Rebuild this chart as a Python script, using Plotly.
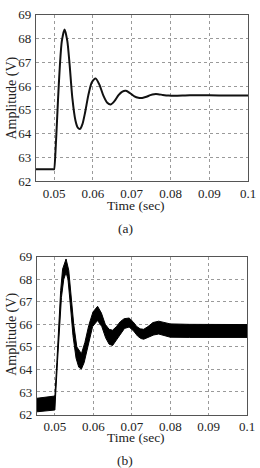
import plotly.graph_objects as go

# ---- data ----
time_a = [0.0453, 0.0499, 0.0500, 0.0505, 0.0510, 0.0515, 0.0520, 0.0527, 0.0534, 0.0540,
          0.0547, 0.0555, 0.0561, 0.0567, 0.0573, 0.0580, 0.0588, 0.0597, 0.0607, 0.0617,
          0.0627, 0.0637, 0.0646, 0.0656, 0.0666, 0.0676, 0.0685, 0.0696, 0.0707, 0.0717,
          0.0727, 0.0738, 0.0748, 0.0758, 0.0768, 0.0780, 0.0795, 0.0810, 0.0850, 0.0900,
          0.0950, 0.1000]
volt_a = [62.5, 62.5, 62.5, 63.7, 65.4, 66.9, 67.9, 68.38, 67.9, 66.9,
          65.5, 64.55, 64.25, 64.2, 64.4, 64.9, 65.6, 66.15, 66.32, 66.05,
          65.6, 65.3, 65.23, 65.38, 65.62, 65.77, 65.8, 65.7, 65.57, 65.51,
          65.5, 65.55, 65.62, 65.66, 65.66, 65.63, 65.6, 65.59, 65.61, 65.61,
          65.6, 65.6]

time_b_up = [0.0453, 0.0500, 0.0505, 0.0510, 0.0515, 0.0520, 0.0529, 0.0536, 0.0542, 0.0549,
             0.0557, 0.0569, 0.0578, 0.0588, 0.0599, 0.0611, 0.0621, 0.0631, 0.0641, 0.0650,
             0.0660, 0.0670, 0.0680, 0.0693, 0.0703, 0.0713, 0.0722, 0.0731, 0.0742, 0.0755,
             0.0770, 0.0785, 0.0800, 0.0850, 0.0900, 0.0950, 0.1000]
volt_b_up = [62.72, 62.82, 64.3, 66.0, 67.5, 68.45, 68.9, 68.4, 67.3, 66.0,
             65.0, 64.7, 65.2, 65.95, 66.55, 66.8, 66.5, 66.0, 65.78, 65.74,
             65.9, 66.12, 66.25, 66.28, 66.12, 65.9, 65.8, 65.78, 65.9, 66.08,
             66.14, 66.08, 66.02, 66.0, 66.0, 65.99, 65.99]

time_b_lo = [0.0453, 0.0500, 0.0502, 0.0507, 0.0512, 0.0517, 0.0523, 0.0529, 0.0534, 0.0540,
             0.0547, 0.0555, 0.0562, 0.0569, 0.0576, 0.0586, 0.0598, 0.0611, 0.0622, 0.0632,
             0.0641, 0.0650, 0.0660, 0.0670, 0.0681, 0.0693, 0.0704, 0.0715, 0.0724, 0.0731,
             0.0743, 0.0757, 0.0770, 0.0785, 0.0800, 0.0850, 0.0900, 0.0950, 0.1000]
volt_b_lo = [62.12, 62.2, 62.9, 64.4, 66.0, 67.2, 68.0, 68.3, 68.0, 66.9,
             65.5, 64.5, 64.1, 64.02, 64.3, 65.1, 65.9, 66.17, 65.9, 65.4,
             65.12, 65.06, 65.25, 65.55, 65.82, 65.88, 65.72, 65.48, 65.37, 65.34,
             65.42, 65.53, 65.57, 65.5, 65.43, 65.42, 65.42, 65.41, 65.42]

x_ticks = [0.05, 0.06, 0.07, 0.08, 0.09, 0.1]
x_tick_text = ["0.05", "0.06", "0.07", "0.08", "0.09", "0.1"]
y_ticks = [62, 63, 64, 65, 66, 67, 68, 69]
x_title = "Time (sec)"
y_title = "Amplitude (V)"
captions = ["(a)", "(b)"]

W, H = 260, 468
FONT = "Liberation Serif, Times New Roman, serif"

fig = go.Figure()
fig.add_trace(go.Scatter(x=time_a, y=volt_a, mode="lines",
                         line=dict(color="#111", width=2, shape="spline", smoothing=0.7),
                         xaxis="x", yaxis="y", showlegend=False))
fig.add_trace(go.Scatter(x=time_b_up + time_b_lo[::-1], y=volt_b_up + volt_b_lo[::-1],
                         mode="lines", fill="toself", fillcolor="#000",
                         line=dict(color="#000", width=1), xaxis="x2", yaxis="y2",
                         showlegend=False))

def px_x(p):
    return p / W

def px_y(p):
    return 1 - p / H

axis_common = dict(showgrid=True, gridcolor="#9a9a9a", griddash="dot", gridwidth=1,
                   showline=True, linecolor="#555", linewidth=1, mirror=True,
                   zeroline=False, ticklabeloverflow="allow",
                   tickfont=dict(family=FONT, size=13, color="#222"))
x_common = dict(ticks="", **axis_common)
y_common = dict(ticks="outside", ticklen=1, tickcolor="rgba(0,0,0,0)", **axis_common)

fig.update_layout(
    width=W, height=H, margin=dict(l=0, r=0, t=0, b=0),
    paper_bgcolor="white", plot_bgcolor="white",
    xaxis=dict(domain=[px_x(37), px_x(256)], range=[0.0453, 0.1], tickvals=x_ticks,
               ticktext=x_tick_text, anchor="y", **x_common),
    yaxis=dict(domain=[px_y(180), px_y(8)], range=[62, 69], tickvals=y_ticks,
               anchor="x", **y_common),
    xaxis2=dict(domain=[px_x(38), px_x(255)], range=[0.0453, 0.1], tickvals=x_ticks,
                ticktext=x_tick_text, anchor="y2", **x_common),
    yaxis2=dict(domain=[px_y(421), px_y(258)], range=[62, 69], tickvals=y_ticks,
                anchor="x2", **y_common),
)

tf = dict(family=FONT, size=13.5, color="#222")
yf = dict(family=FONT, size=14, color="#222")
ann = [
    dict(text=x_title, x=px_x(140), y=px_y(205), xref="paper", yref="paper",
         showarrow=False, font=tf, xanchor="center", yanchor="middle"),
    dict(text=y_title, x=px_x(12), y=px_y(94), xref="paper", yref="paper",
         showarrow=False, font=yf, textangle=-90, xanchor="center", yanchor="middle"),
    dict(text=captions[0], x=px_x(129), y=px_y(229), xref="paper", yref="paper",
         showarrow=False, font=tf, xanchor="center", yanchor="middle"),
    dict(text=x_title, x=px_x(140), y=px_y(445), xref="paper", yref="paper",
         showarrow=False, font=tf, xanchor="center", yanchor="middle"),
    dict(text=y_title, x=px_x(13), y=px_y(338), xref="paper", yref="paper",
         showarrow=False, font=yf, textangle=-90, xanchor="center", yanchor="middle"),
    dict(text=captions[1], x=px_x(129), y=px_y(469), xref="paper", yref="paper",
         showarrow=False, font=tf, xanchor="center", yanchor="middle"),
]
fig.update_layout(annotations=ann)

fig.write_html("out.html")
